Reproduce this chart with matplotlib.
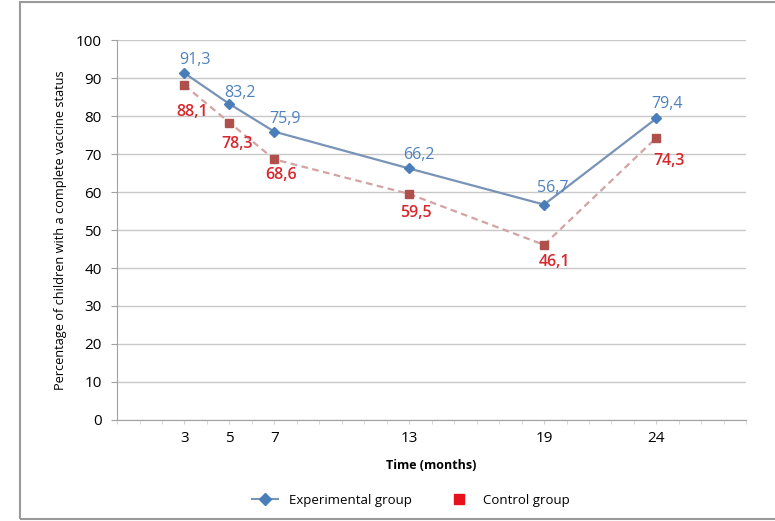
import matplotlib.pyplot as plt
from matplotlib.lines import Line2D

months = [3, 5, 7, 13, 19, 24]
experimental = [91.3, 83.2, 75.9, 66.2, 56.7, 79.4]
control = [88.1, 78.3, 68.6, 59.5, 46.1, 74.3]
exp_labels = ["91,3", "83,2", "75,9", "66,2", "56,7", "79,4"]
ctrl_labels = ["88,1", "78,3", "68,6", "59,5", "46,1", "74,3"]

plt.rcParams['font.family'] = ['Open Sans', 'DejaVu Sans']

fig = plt.figure(figsize=(7.75, 5.21), dpi=100)
ax = fig.add_axes([0.151, 0.194, 0.812, 0.729])

# outer frame like the original screenshot
fig.add_artist(plt.Rectangle((20 / 775, 2 / 521), 760 / 775, 517 / 521, fill=False,
                             edgecolor='#9a9a9a', linewidth=1.5, transform=fig.transFigure))

ax.plot(months, experimental, color='#7893b6', lw=1.6, marker='D', ms=5,
        markerfacecolor='#4a7ebb', markeredgecolor='#4a7ebb', zorder=3)
ax.plot(months, control, color='#d3a3a3', lw=1.6, ls=(0, (3, 2)), marker='s', ms=6,
        markerfacecolor='#b0504d', markeredgecolor='#b0504d', zorder=3)

exp_off = [(11, 13), (11, 11), (11, 13), (10, 13), (9, 17), (11, 14)]
ctrl_off = [(8, -27), (8, -21), (7, -16), (7, -19), (10, -17), (13, -23)]
for x, y, t, o in zip(months, experimental, exp_labels, exp_off):
    ax.annotate(t, (x, y), xytext=o, textcoords='offset pixels', ha='center',
                va='center', color='#4f81bd', fontsize=11.5)
for x, y, t, o in zip(months, control, ctrl_labels, ctrl_off):
    ax.annotate(t, (x, y), xytext=o, textcoords='offset pixels', ha='center',
                va='center', color='#d9262b', fontsize=11.5, fontweight='semibold')

ax.set_xlim(0, 28)
ax.set_ylim(0, 100)
ax.set_yticks(range(0, 101, 10))
ax.set_xticks(months)
ax.set_xticks(range(0, 29), minor=True)
ax.tick_params(axis='x', which='minor', length=3, color='#d0d0d0')
ax.tick_params(axis='x', which='major', length=3, color='#d0d0d0', labelsize=11, pad=5)
ax.tick_params(axis='y', length=4, color='#a0a0a0', labelsize=11, pad=7)
ax.grid(axis='y', color='#c8c8c8', lw=1)
ax.set_axisbelow(True)
for s in ['top', 'right']:
    ax.spines[s].set_visible(False)
ax.spines['left'].set_color('#a0a0a0')
ax.spines['bottom'].set_color('#a0a0a0')

ax.set_ylabel("Percentage of children with a complete vaccine status", fontsize=9.2, labelpad=6)
ax.set_xlabel("Time (months)", fontsize=9, fontweight='bold', labelpad=9)

handles = [
    Line2D([], [], color='#7893b6', marker='D', ms=6, markerfacecolor='#4a7ebb',
           markeredgecolor='#4a7ebb'),
    Line2D([], [], color='none', marker='s', ms=7, markerfacecolor='#e8101a',
           markeredgecolor='#e8101a'),
]
fig.legend(handles, ["Experimental group", "Control group"], loc='center',
           bbox_to_anchor=(0.53, 0.04), ncol=2, frameon=False, fontsize=9.5,
           handlelength=2, columnspacing=2.6)

fig.savefig("out.png", dpi=100)
